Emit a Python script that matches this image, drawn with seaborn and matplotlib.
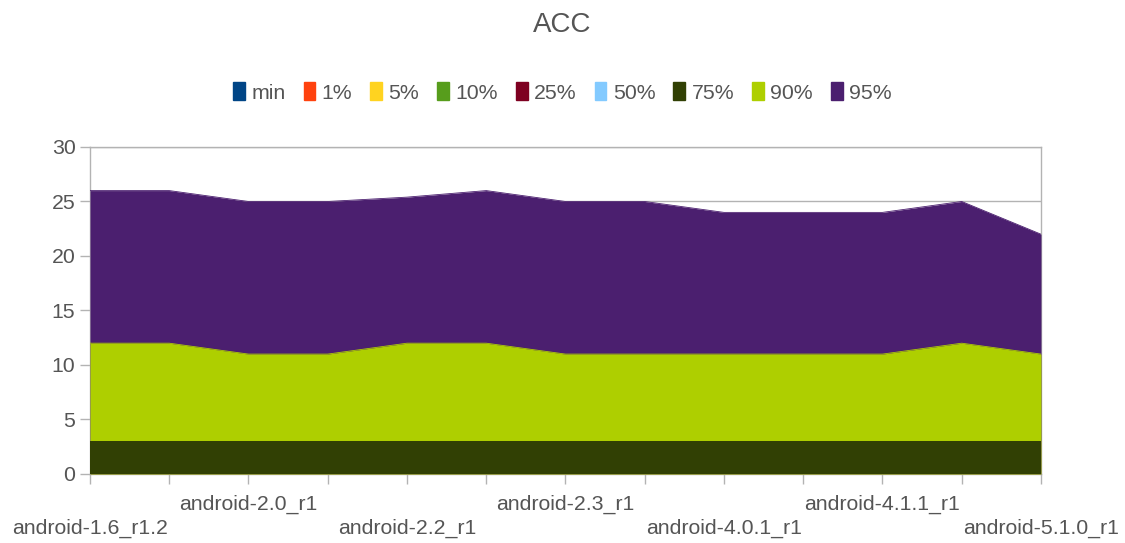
# ACC percentile area chart across android releases

import numpy as np
import pandas as pd
import matplotlib
matplotlib.use("Agg")
import matplotlib.pyplot as plt
from matplotlib.patches import Patch
import seaborn as sns

# Data
releases = [
    "android-1.6_r1.2", "android-1.6_r2", "android-2.0_r1", "android-2.1_r1",
    "android-2.2_r1", "android-2.2.3_r1", "android-2.3_r1", "android-2.3.7_r1",
    "android-4.0.1_r1", "android-4.0.4_r1", "android-4.1.1_r1", "android-4.4_r1",
    "android-5.1.0_r1",
]
p_min = [0, 0, 0, 0, 0, 0, 0, 0, 0, 0, 0, 0, 0]
p1 = [0, 0, 0, 0, 0, 0, 0, 0, 0, 0, 0, 0, 0]
p5 = [0, 0, 0, 0, 0, 0, 0, 0, 0, 0, 0, 0, 0]
p10 = [0, 0, 0, 0, 0, 0, 0, 0, 0, 0, 0, 0, 0]
p25 = [0, 0, 0, 0, 0, 0, 0, 0, 0, 0, 0, 0, 0]
p50 = [0, 0, 0, 0, 0, 0, 0, 0, 0, 0, 0, 0, 0]
p75 = [3, 3, 3, 3, 3, 3, 3, 3, 3, 3, 3, 3, 3]
p90 = [12, 12, 11, 11, 12, 12, 11, 11, 11, 11, 11, 12, 11]
p95 = [26, 26, 25, 25, 25.4, 26, 25, 25, 24, 24, 24, 25, 22]

series_names = ["min", "1%", "5%", "10%", "25%", "50%", "75%", "90%", "95%"]
series_values = [p_min, p1, p5, p10, p25, p50, p75, p90, p95]
colors = ["#004586", "#ff420e", "#ffd320", "#579d1c", "#7e0021",
          "#83caff", "#314004", "#aecf00", "#4b1f6f"]

df = pd.DataFrame({name: vals for name, vals in zip(series_names, series_values)})
df["idx"] = np.arange(len(releases))

sns.set_theme(style="white")
plt.rcParams["font.family"] = ["Liberation Sans", "DejaVu Sans"]

text_col = "#555555"
axis_col = "#b3b3b3"

fig = plt.figure(figsize=(11.25, 5.43), dpi=100)
ax = fig.add_axes([0.08, 0.1271, 0.8453, 0.6022])

# later series sit behind, like the original
n = len(series_names)
for i, (name, col) in enumerate(zip(series_names, colors)):
    z = 2 + (n - i)
    ax.fill_between(df["idx"], 0, df[name], color=col, linewidth=0, zorder=z)
    sns.lineplot(data=df, x="idx", y=name, color=col, linewidth=0.6,
                 ax=ax, zorder=z, legend=False)

ax.set_xlim(0, len(releases) - 1)
ax.set_ylim(0, 30)
ax.set_yticks(range(0, 31, 5))
ax.set_xticks(df["idx"])

labels = []
for i, r in enumerate(releases):
    if i % 4 == 2:
        labels.append(r)
    elif i % 4 == 0:
        labels.append("\n" + r)
    else:
        labels.append("")
ax.set_xticklabels(labels, linespacing=1.3)

ax.grid(True, axis="y", color=axis_col, linewidth=1, zorder=0.5)
ax.set_axisbelow(True)
for s in ax.spines.values():
    s.set_color(axis_col)
    s.set_linewidth(1)
ax.tick_params(axis="both", direction="out", length=7, width=1, color=axis_col,
               labelcolor=text_col, labelsize=15.3, bottom=True, left=True)
ax.tick_params(axis="x", pad=8)
ax.set_xlabel("")
ax.set_ylabel("")

fig.suptitle("ACC", y=0.978, fontsize=20, color=text_col)

handles = [Patch(facecolor=c, edgecolor=c) for c in colors]
fig.legend(handles, series_names, loc="center", bbox_to_anchor=(0.5, 0.83),
           ncol=9, frameon=False, fontsize=15.3, labelcolor=text_col,
           handlelength=0.55, handleheight=0.95, handletextpad=0.3,
           columnspacing=0.85)

fig.savefig("out.png", dpi=100)
